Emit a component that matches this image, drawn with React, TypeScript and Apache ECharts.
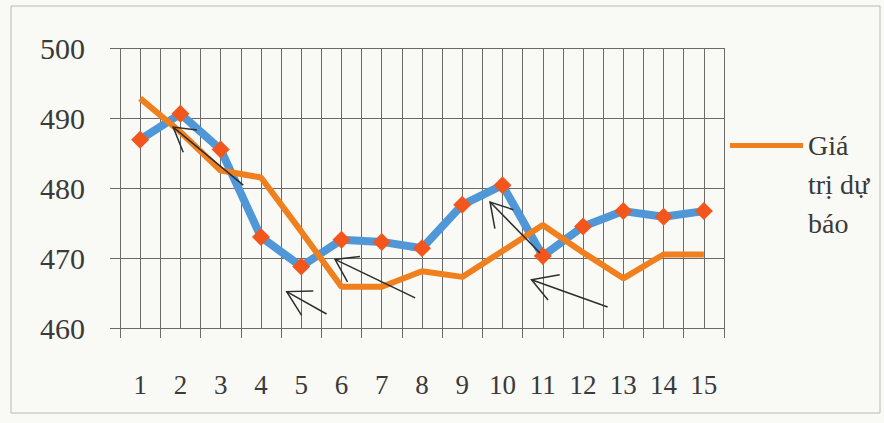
import React, { useEffect, useRef } from 'react';
import * as echarts from 'echarts';

const categories = ['1', '2', '3', '4', '5', '6', '7', '8', '9', '10', '11', '12', '13', '14', '15'];
const actualValues = [486.9, 490.6, 485.5, 473.0, 468.8, 472.6, 472.3, 471.4, 477.6, 480.4, 470.3, 474.5, 476.7, 475.9, 476.7];
const forecastValues = [492.8, 488.0, 482.5, 481.5, 473.8, 465.9, 465.9, 468.1, 467.3, 471.0, 474.7, 470.8, 467.1, 470.5, 470.5];
const yMin = 460;
const yMax = 500;
const yStep = 10;

// Hand-drawn annotation arrows, in data units (x = category number, y = value)
const arrowTips = [[1.82, 488.7], [4.64, 465.2], [5.84, 469.8], [9.69, 478.0], [10.72, 466.9]];
const arrowTails = [[3.56, 480.4], [5.63, 462.0], [7.83, 464.3], [10.93, 470.7], [12.61, 463.0]];
const arrowBarbA = [[2.41, 488.3], [5.30, 465.3], [6.46, 470.2], [10.27, 476.9], [11.42, 467.6]];
const arrowBarbB = [[2.07, 485.1], [5.01, 461.8], [6.15, 466.6], [9.81, 474.2], [11.13, 464.0]];

const FONT = 'Liberation Serif';
const GRID_COLOR = '#6a6a6a';
const TEXT_COLOR = '#3a3a3a';

export default function App() {
  const ref = useRef<HTMLDivElement>(null);

  useEffect(() => {
    if (!ref.current) return;
    const chart = echarts.init(ref.current, null, { renderer: 'svg' });
    const option: any = {
      animation: false,
      backgroundColor: '#f9f9f6',
      textStyle: { fontFamily: FONT },
      grid: { left: 120, right: 160, top: 48, bottom: 95, containLabel: false },
      legend: {
        data: ['Giá trị dự báo'],
        left: 725,
        top: 43,
        orient: 'vertical',
        icon: 'rect',
        itemWidth: 73,
        itemHeight: 5,
        formatter: () => '\n\nGiá\ntrị dự\nbáo',
        textStyle: {
          fontFamily: FONT,
          fontSize: 28,
          lineHeight: 39,
          color: TEXT_COLOR,
        },
      },
      xAxis: [
        {
          type: 'category',
          data: categories,
          boundaryGap: true,
          axisLine: { show: true, lineStyle: { color: GRID_COLOR, width: 1 } },
          axisTick: { show: true, length: 10, lineStyle: { color: GRID_COLOR } },
          axisLabel: { interval: 0, margin: 43, fontFamily: FONT, fontSize: 27, color: TEXT_COLOR },
          splitLine: { show: false },
        },
        {
          type: 'value',
          min: 0.5,
          max: 15.5,
          interval: 0.5,
          position: 'bottom',
          axisLine: { show: false },
          axisTick: { show: false },
          axisLabel: { show: false },
          splitLine: { show: true, lineStyle: { color: GRID_COLOR, width: 1 } },
        },
      ],
      yAxis: {
        type: 'value',
        min: yMin,
        max: yMax,
        interval: yStep,
        axisLine: { show: false },
        axisTick: { show: true, length: 10, lineStyle: { color: GRID_COLOR } },
        axisLabel: { margin: 35, fontFamily: FONT, fontSize: 30, color: TEXT_COLOR },
        splitLine: { show: true, lineStyle: { color: GRID_COLOR, width: 1 } },
      },
      series: [
        {
          name: 'Giá trị thực tế',
          type: 'line',
          xAxisIndex: 0,
          data: actualValues,
          symbol: 'diamond',
          symbolSize: 18,
          lineStyle: { color: '#4f97d6', width: 8 },
          itemStyle: { color: '#f3561d' },
          z: 2,
        },
        {
          name: 'Giá trị dự báo',
          type: 'line',
          xAxisIndex: 0,
          data: forecastValues,
          symbol: 'none',
          lineStyle: { color: '#f07f1e', width: 6 },
          itemStyle: { color: '#f07f1e' },
          z: 3,
        },
      ],
    };
    chart.setOption(option);

    const px = (p: number[]) => chart.convertToPixel({ xAxisIndex: 1, yAxisIndex: 0 } as any, p) as number[];
    const graphics: any[] = [
      {
        type: 'rect',
        shape: { x: 11, y: 6, width: 869, height: 407 },
        style: { fill: 'none', stroke: '#b8b8b8', lineWidth: 1 },
        z: 0,
        silent: true,
      },
    ];
    arrowTips.forEach((tip, i) => {
      const t = px(tip);
      const tail = px(arrowTails[i]);
      const a = px(arrowBarbA[i]);
      const b = px(arrowBarbB[i]);
      graphics.push({
        type: 'polyline',
        shape: { points: [tail, t] },
        style: { stroke: '#2e2e2e', lineWidth: 1.5, fill: 'none' },
        z: 10,
      });
      graphics.push({
        type: 'polyline',
        shape: { points: [a, t, b] },
        style: { stroke: '#2e2e2e', lineWidth: 1.5, fill: 'none' },
        z: 10,
      });
    });
    chart.setOption({ graphic: graphics });

    return () => chart.dispose();
  }, []);

  return (
    <div
      ref={ref}
      style={{ position: 'absolute', left: 0, top: 0, width: 884, height: 423 }}
    />
  );
}
